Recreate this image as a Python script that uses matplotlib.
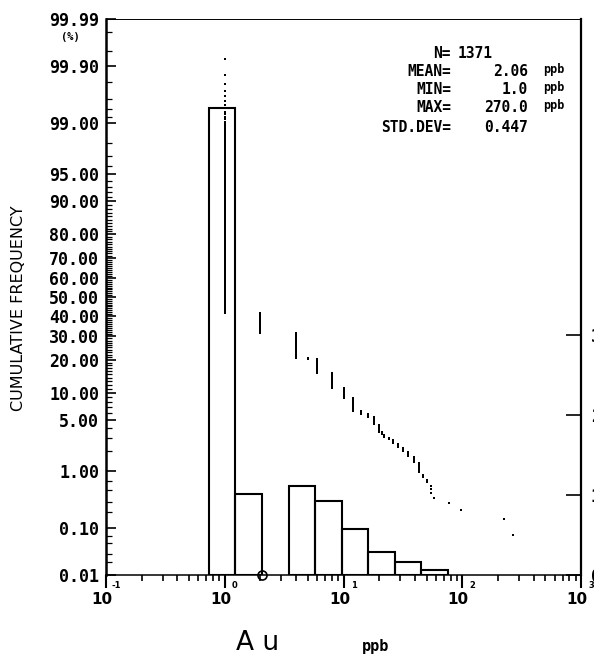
import numpy as np
import matplotlib
matplotlib.use("Agg")
import matplotlib.pyplot as plt
from statistics import NormalDist

# --- Au (ppb) results: distinct values and number of samples at each ---
au_values = [1, 2, 4, 5, 6, 8, 10, 12, 14, 16, 18, 20, 21, 22, 24, 26,
             29, 32, 35, 39, 43, 47, 50, 55, 58, 78, 98, 223, 270]
au_counts = [801, 138, 148, 4, 70, 57, 32, 34, 7, 6, 14, 12, 3, 4, 3, 4,
             4, 4, 4, 4, 6, 2, 2, 3, 1, 1, 1, 1, 1]

N_SAMPLES = 1371
MEAN = 2.06
MIN_VAL = 1.0
MAX_VAL = 270.0
STD_DEV = 0.447

prob_ticks = [0.01, 0.10, 1.00, 5.00, 10.00, 20.00, 30.00, 40.00, 50.00,
              60.00, 70.00, 80.00, 90.00, 95.00, 99.00, 99.90, 99.99]
freq_ticks = [0, 10, 20, 30]
decades = [-1, 0, 1, 2, 3]

MONO = "DejaVu Sans Mono"

nd = NormalDist()
probit = np.vectorize(lambda p: nd.inv_cdf(p / 100.0))

# samples sorted ascending, cumulative percent (Weibull plotting position)
samples = np.repeat(au_values, au_counts).astype(float)
rank = np.arange(1, N_SAMPLES + 1)
cum_pct = 100.0 * (N_SAMPLES + 1 - rank) / (N_SAMPLES + 1)

# histogram classes: width = half a std dev (log units), anchored on the mean
edges_log = np.log10(MEAN) + (STD_DEV / 2) * np.arange(-2, 11)
hist, _ = np.histogram(np.log10(samples), bins=edges_log)
hist_pct = 100.0 * hist / N_SAMPLES

W, H = 594, 660
fig = plt.figure(figsize=(W / 100, H / 100), dpi=100)
ax = fig.add_axes([106 / W, 1 - 575 / H, (581 - 106) / W, (575 - 19) / H])

ax.set_xscale("log")
ax.set_xlim(0.1, 1000)
ax.set_ylim(probit(0.01), probit(99.99))

# cumulative frequency points
ax.plot(samples, probit(cum_pct), "s", ms=1.8, mew=0, color="black")

# probability axis
ax.set_yticks(probit(prob_ticks))
ax.set_yticklabels([f"{p:.2f}" for p in prob_ticks], fontfamily=MONO,
                   fontweight="bold", fontsize=12)
minor_probs = ([0.02, 0.03, 0.05, 0.07] + [0.2, 0.3, 0.5, 0.7] +
               [2, 3, 4] + [6, 7, 8, 9] + list(range(11, 90)) +
               [91, 92, 93, 94] + [96, 97, 98] +
               [99.2, 99.4, 99.6, 99.8] + [99.95, 99.98])
ax.set_yticks(probit(minor_probs), minor=True)
ax.tick_params(axis="y", which="major", direction="in", length=7, width=1.2,
               pad=5, right=False)
ax.tick_params(axis="y", which="minor", direction="in", length=4, width=0.9,
               right=False)

# log concentration axis
ax.set_xticks([10.0 ** d for d in decades])
ax.set_xticks([m * 10.0 ** d for d in decades[:-1] for m in range(2, 10)],
              minor=True)
ax.set_xticklabels([])
ax.set_xticklabels([], minor=True)
ax.tick_params(axis="x", which="major", direction="out", length=9, width=1.5)
ax.tick_params(axis="x", which="minor", direction="out", length=4, width=1.2)
for d in decades:
    ax.annotate("10", (10.0 ** d, 0), xycoords=("data", "axes fraction"),
                xytext=(-4, -25), textcoords="offset pixels",
                ha="center", va="center", fontsize=11, fontweight="bold",
                fontfamily="DejaVu Sans", annotation_clip=False)
    ax.annotate(str(d), (10.0 ** d, 0), xycoords=("data", "axes fraction"),
                xytext=(10, -11), textcoords="offset pixels",
                ha="center", va="center", fontsize=6, fontweight="bold",
                fontfamily="DejaVu Sans", annotation_clip=False)

# geometric mean marker on the x axis
ax.plot([MEAN], [probit(0.01)], "o", ms=6.5, mfc="none", mec="black",
        mew=1.2, clip_on=False, zorder=5)

for side, lw in (("left", 1.8), ("bottom", 1.1), ("top", 0.7)):
    ax.spines[side].set_linewidth(lw)
ax.spines["right"].set_visible(False)

# frequency histogram on the right-hand scale (classes under 0.2 % not drawn)
ax2 = ax.twinx()
ax2.set_ylim(0, 69.5)
keep = hist_pct >= 0.2
left = 10.0 ** edges_log[:-1][keep]
right = 10.0 ** edges_log[1:][keep]
ax2.bar(left, hist_pct[keep], width=right - left, align="edge",
        fill=False, edgecolor="black", linewidth=1.5)
ax2.set_yticks(freq_ticks)
ax2.set_yticklabels([str(t) for t in freq_ticks], fontfamily=MONO,
                    fontweight="bold", fontsize=12)
ax2.tick_params(axis="y", direction="in", length=11, width=1.2, pad=7)
for side in ("left", "top", "bottom"):
    ax2.spines[side].set_visible(False)
ax2.spines["right"].set_linewidth(1.6)

# statistics block
def px(x, y):
    return x / W, 1 - y / H

stat_rows = [
    ("N=", "", ""),
    ("MEAN=", f"{MEAN:.2f}", "ppb"),
    ("MIN=", f"{MIN_VAL:.1f}", "ppb"),
    ("MAX=", f"{MAX_VAL:.1f}", "ppb"),
    ("STD.DEV=", f"{STD_DEV:.3f}", ""),
]
row_y = [53, 72, 90, 108, 127]
sty = dict(fontfamily=MONO, fontweight="bold", fontsize=10.5, va="center")
for (lab, val, unit), y in zip(stat_rows, row_y):
    fig.text(*px(451, y), lab, ha="right", **sty)
    if val:
        fig.text(*px(528, y), val, ha="right", **sty)
    if unit:
        fig.text(*px(543, y - 2), unit, ha="left", fontfamily=MONO,
                 fontweight="bold", fontsize=8.5, va="center")
fig.text(*px(458, row_y[0]), str(N_SAMPLES), ha="left", **sty)

# axis titles
fig.text(*px(70, 37), "(%)", ha="center", va="center", fontfamily=MONO,
         fontweight="bold", fontsize=7.5)
fig.text(*px(19, 308), "CUMULATIVE FREQUENCY", rotation=90, ha="center",
         va="center", fontsize=11.5, fontfamily="DejaVu Sans")
fig.text(*px(258, 643), "A u", ha="center", va="center", fontsize=19,
         fontfamily="DejaVu Sans")
fig.text(*px(376, 647), "ppb", ha="center", va="center", fontsize=11,
         fontfamily=MONO, fontweight="bold")

fig.savefig("out.png", dpi=100, facecolor="white")
